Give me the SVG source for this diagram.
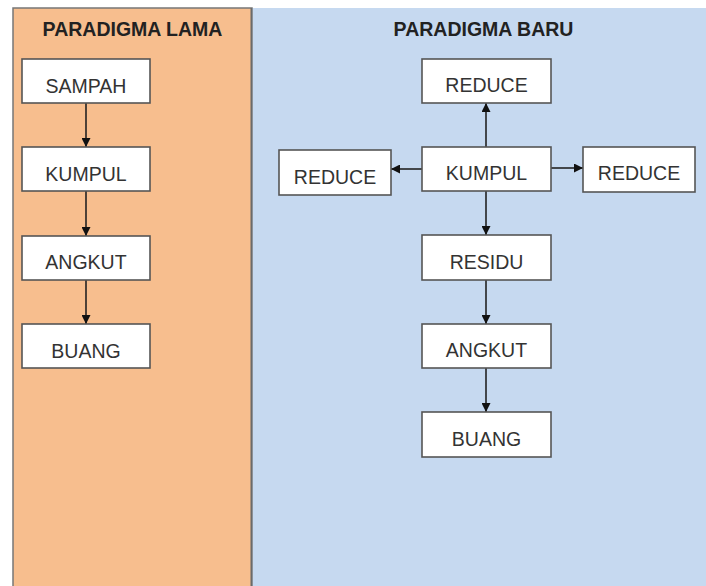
<svg xmlns="http://www.w3.org/2000/svg" width="706" height="586" viewBox="0 0 706 586">
<style>
.box{fill:#fff;stroke:#555;stroke-width:1.6}
.t{font-family:"Liberation Sans",Arial,sans-serif;font-size:19.5px;fill:#333;text-anchor:middle}
.h{font-family:"Liberation Sans",Arial,sans-serif;font-size:19.5px;font-weight:bold;fill:#222;text-anchor:middle}
.c{stroke:#222;stroke-width:1.6;fill:none;marker-end:url(#ah)}
</style>
<defs>
<marker id="ah" viewBox="0 0 10 10" refX="10" refY="5" markerWidth="9" markerHeight="9" markerUnits="userSpaceOnUse" orient="auto">
<path d="M0,0 L10,5 L0,10 z" fill="#111"/>
</marker>
</defs>
<rect x="0" y="0" width="706" height="586" fill="#fff"/>
<g id="panel-lama">
<rect x="13" y="8" width="239" height="590" fill="#F7BE8E" stroke="#777" stroke-width="1.5"/>
<text class="h" x="132.5" y="36">PARADIGMA LAMA</text>
</g>
<g id="panel-baru">
<rect x="252.5" y="8" width="460" height="590" fill="#C6D9F0"/>
<line x1="251.5" y1="8" x2="251.5" y2="586" stroke="#6b6b6b" stroke-width="2"/>
<text class="h" x="483.5" y="36">PARADIGMA BARU</text>
</g>
<g id="connectors">
<line class="c" x1="86" y1="103" x2="86" y2="147"/>
<line class="c" x1="86" y1="191" x2="86" y2="236"/>
<line class="c" x1="86" y1="280" x2="86" y2="324"/>
<line class="c" x1="486" y1="147" x2="486" y2="103"/>
<line class="c" x1="422" y1="169" x2="391" y2="169"/>
<line class="c" x1="551" y1="168" x2="583" y2="168"/>
<line class="c" x1="486" y1="191" x2="486" y2="235"/>
<line class="c" x1="486" y1="280" x2="486" y2="324"/>
<line class="c" x1="486" y1="368" x2="486" y2="412"/>
</g>
<g id="l-sampah"><rect class="box" x="22" y="59" width="128" height="44"/><text class="t" x="86" y="93">SAMPAH</text></g>
<g id="l-kumpul"><rect class="box" x="22" y="147" width="128" height="44"/><text class="t" x="86" y="181">KUMPUL</text></g>
<g id="l-angkut"><rect class="box" x="22" y="236" width="128" height="44"/><text class="t" x="86" y="269">ANGKUT</text></g>
<g id="l-buang"><rect class="box" x="22" y="324" width="128" height="44"/><text class="t" x="86" y="358">BUANG</text></g>
<g id="r-reduce-top"><rect class="box" x="422" y="59" width="129" height="44"/><text class="t" x="486.5" y="92">REDUCE</text></g>
<g id="r-kumpul"><rect class="box" x="422" y="147" width="129" height="44"/><text class="t" x="486.5" y="180">KUMPUL</text></g>
<g id="r-reduce-left"><rect class="box" x="279" y="150" width="112" height="45"/><text class="t" x="335" y="184">REDUCE</text></g>
<g id="r-reduce-right"><rect class="box" x="583" y="147" width="112" height="45"/><text class="t" x="639" y="180">REDUCE</text></g>
<g id="r-residu"><rect class="box" x="422" y="235" width="129" height="45"/><text class="t" x="486.5" y="269">RESIDU</text></g>
<g id="r-angkut"><rect class="box" x="422" y="324" width="129" height="44"/><text class="t" x="486.5" y="357">ANGKUT</text></g>
<g id="r-buang"><rect class="box" x="422" y="412" width="129" height="45"/><text class="t" x="486.5" y="446">BUANG</text></g>
</svg>
